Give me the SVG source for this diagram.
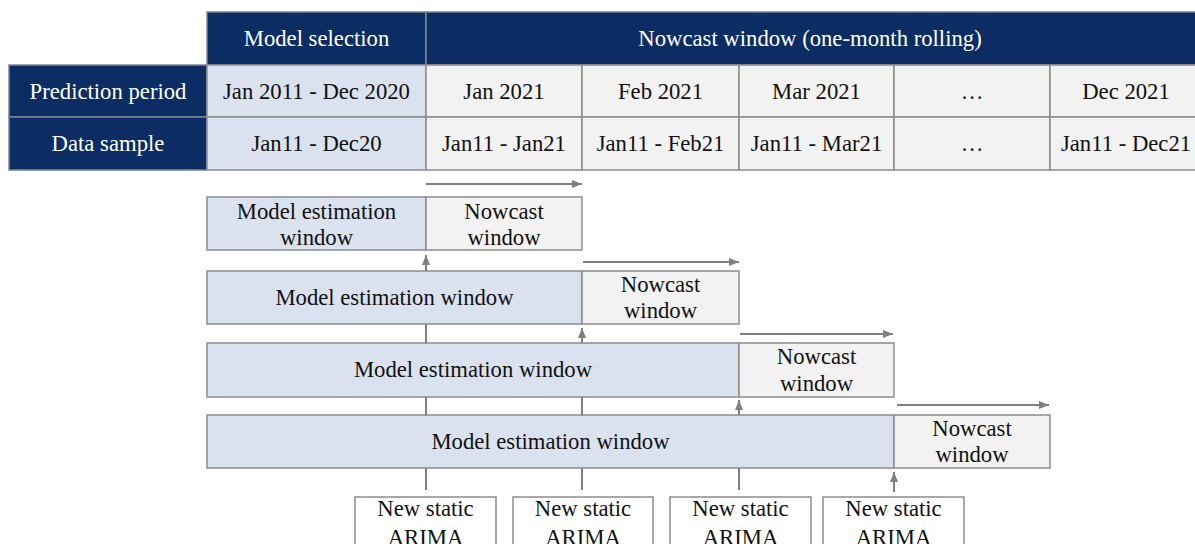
<svg xmlns="http://www.w3.org/2000/svg" width="1195" height="544" viewBox="0 0 1195 544">
  <style>
    text { font-family: "Liberation Serif", "Times New Roman", serif; font-size: 22.7px; text-anchor: middle; fill: #111; }
    .navy { fill: #0c2d63; stroke: #7d8593; stroke-width: 1.5; }
    .blue { fill: #dae2ef; stroke: #8c8c8c; stroke-width: 1.5; }
    .grey { fill: #f2f2f2; stroke: #8c8c8c; stroke-width: 1.5; }
    .plain { fill: #ffffff; stroke: #8c8c8c; stroke-width: 1.5; }
    .hdr { fill: #ffffff; }
    .conn { stroke: #7f7f7f; stroke-width: 2; fill: none; }
    .arr { marker-end: url(#tip); }
  </style>
  <defs>
    <marker id="tip" markerUnits="userSpaceOnUse" markerWidth="10" markerHeight="10" viewBox="0 0 10 10" refX="10" refY="5" orient="auto">
      <path d="M0,1 L10,5 L0,9 Z" fill="#7f7f7f"/>
    </marker>
  </defs>

  <rect width="1195" height="544" fill="#ffffff"/>

  <!-- Summary table: header row -->
  <g id="hdr-model-selection">
    <rect class="navy" x="207" y="12" width="219" height="53"/>
    <text class="hdr" x="316.5" y="46">Model selection</text>
  </g>
  <g id="hdr-nowcast-window">
    <rect class="navy" x="426" y="12" width="776" height="53"/>
    <text class="hdr" x="810" y="46">Nowcast window (one-month rolling)</text>
  </g>

  <!-- Summary table: prediction period row -->
  <g id="row-prediction-label">
    <rect class="navy" x="9" y="65" width="198" height="52"/>
    <text class="hdr" x="108" y="99">Prediction period</text>
  </g>
  <g id="pp-selection">
    <rect class="blue" x="207" y="65" width="219" height="52"/>
    <text x="316.5" y="99">Jan 2011 - Dec 2020</text>
  </g>
  <g id="pp-jan">
    <rect class="grey" x="426" y="65" width="156" height="52"/>
    <text x="504" y="99">Jan 2021</text>
  </g>
  <g id="pp-feb">
    <rect class="grey" x="582" y="65" width="157" height="52"/>
    <text x="660.5" y="99">Feb 2021</text>
  </g>
  <g id="pp-mar">
    <rect class="grey" x="739" y="65" width="155" height="52"/>
    <text x="816.5" y="99">Mar 2021</text>
  </g>
  <g id="pp-etc">
    <rect class="grey" x="894" y="65" width="156" height="52"/>
    <text x="972" y="99">…</text>
  </g>
  <g id="pp-dec">
    <rect class="grey" x="1050" y="65" width="152" height="52"/>
    <text x="1126" y="99">Dec 2021</text>
  </g>

  <!-- Summary table: data sample row -->
  <g id="row-sample-label">
    <rect class="navy" x="9" y="117" width="198" height="53"/>
    <text class="hdr" x="108" y="151">Data sample</text>
  </g>
  <g id="ds-selection">
    <rect class="blue" x="207" y="117" width="219" height="53"/>
    <text x="316.5" y="151">Jan11 - Dec20</text>
  </g>
  <g id="ds-jan">
    <rect class="grey" x="426" y="117" width="156" height="53"/>
    <text x="504" y="151">Jan11 - Jan21</text>
  </g>
  <g id="ds-feb">
    <rect class="grey" x="582" y="117" width="157" height="53"/>
    <text x="660.5" y="151">Jan11 - Feb21</text>
  </g>
  <g id="ds-mar">
    <rect class="grey" x="739" y="117" width="155" height="53"/>
    <text x="816.5" y="151">Jan11 - Mar21</text>
  </g>
  <g id="ds-etc">
    <rect class="grey" x="894" y="117" width="156" height="53"/>
    <text x="972" y="151">…</text>
  </g>
  <g id="ds-dec">
    <rect class="grey" x="1050" y="117" width="152" height="53"/>
    <text x="1126" y="151">Jan11 - Dec21</text>
  </g>

  <!-- Rolling windows, step 1 -->
  <g id="est-1">
    <rect class="blue" x="207" y="197" width="219" height="53"/>
    <text x="316.5" y="219">Model estimation</text>
    <text x="316.5" y="245">window</text>
  </g>
  <g id="now-1">
    <rect class="grey" x="426" y="197" width="156" height="53"/>
    <text x="504" y="219">Nowcast</text>
    <text x="504" y="245">window</text>
  </g>

  <!-- Rolling windows, step 2 -->
  <g id="est-2">
    <rect class="blue" x="207" y="271" width="375" height="53"/>
    <text x="394.5" y="305">Model estimation window</text>
  </g>
  <g id="now-2">
    <rect class="grey" x="582" y="271" width="157" height="53"/>
    <text x="660.5" y="292">Nowcast</text>
    <text x="660.5" y="318">window</text>
  </g>

  <!-- Rolling windows, step 3 -->
  <g id="est-3">
    <rect class="blue" x="207" y="343" width="532" height="54"/>
    <text x="473" y="377">Model estimation window</text>
  </g>
  <g id="now-3">
    <rect class="grey" x="739" y="343" width="155" height="54"/>
    <text x="816.5" y="364">Nowcast</text>
    <text x="816.5" y="391">window</text>
  </g>

  <!-- Rolling windows, step 4 -->
  <g id="est-4">
    <rect class="blue" x="207" y="415" width="687" height="53"/>
    <text x="550.5" y="449">Model estimation window</text>
  </g>
  <g id="now-4">
    <rect class="grey" x="894" y="415" width="156" height="53"/>
    <text x="972" y="436">Nowcast</text>
    <text x="972" y="462">window</text>
  </g>

  <!-- Re-estimated models -->
  <g id="arima-1">
    <rect class="plain" x="355" y="497" width="141" height="70"/>
    <text x="425.5" y="516">New static</text>
    <text x="425.5" y="545">ARIMA</text>
  </g>
  <g id="arima-2">
    <rect class="plain" x="513" y="497" width="140" height="70"/>
    <text x="583" y="516">New static</text>
    <text x="583" y="545">ARIMA</text>
  </g>
  <g id="arima-3">
    <rect class="plain" x="670" y="497" width="141" height="70"/>
    <text x="740.5" y="516">New static</text>
    <text x="740.5" y="545">ARIMA</text>
  </g>
  <g id="arima-4">
    <rect class="plain" x="823" y="497" width="141" height="70"/>
    <text x="893.5" y="516">New static</text>
    <text x="893.5" y="545">ARIMA</text>
  </g>

  <!-- Connectors: roll-forward arrows, up arrows and plain links -->
  <g id="connectors">
    <line class="conn arr" x1="426" y1="184" x2="582" y2="184"/>
    <line class="conn arr" x1="583" y1="262" x2="739" y2="262"/>
    <line class="conn arr" x1="740" y1="334" x2="893" y2="334"/>
    <line class="conn arr" x1="897" y1="405" x2="1049" y2="405"/>

    <line class="conn arr" x1="426" y1="271" x2="426" y2="255"/>
    <line class="conn arr" x1="582" y1="343" x2="582" y2="328"/>
    <line class="conn arr" x1="739" y1="415" x2="739" y2="400"/>
    <line class="conn arr" x1="894" y1="492" x2="894" y2="472"/>

    <line class="conn" x1="426" y1="324" x2="426" y2="343"/>
    <line class="conn" x1="426" y1="397" x2="426" y2="415"/>
    <line class="conn" x1="582" y1="397" x2="582" y2="415"/>
    <line class="conn" x1="426" y1="468" x2="426" y2="490"/>
    <line class="conn" x1="582" y1="468" x2="582" y2="490"/>
    <line class="conn" x1="739" y1="468" x2="739" y2="490"/>
  </g>
</svg>
